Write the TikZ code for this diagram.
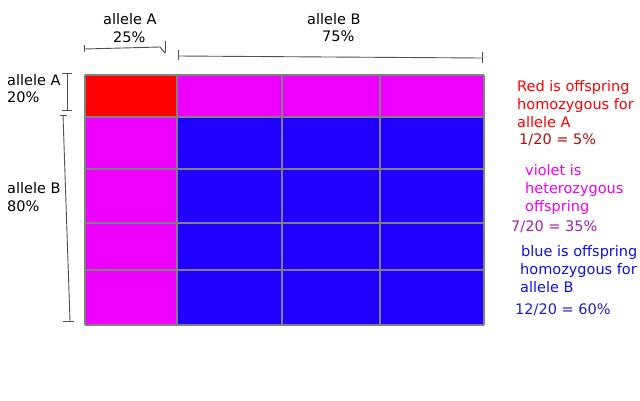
\documentclass[tikz,border=0pt]{standalone}
\usepackage{fontspec}
\setmainfont{DejaVu Sans}
\definecolor{cred}{HTML}{FF0000}
\definecolor{cmag}{HTML}{EE00FF}
\definecolor{cblue}{HTML}{2200FF}
\definecolor{gridgray}{HTML}{808080}
\definecolor{brk}{HTML}{505050}
\definecolor{tred}{HTML}{FF0000}
\definecolor{tdred}{HTML}{B01010}
\definecolor{tmag}{HTML}{EE00EE}
\definecolor{tpur}{HTML}{A020B0}
\definecolor{tblue}{HTML}{1010E0}
\definecolor{tdblue}{HTML}{2020C0}
\tikzset{
  lbl/.style={inner sep=0pt, anchor=base west, font=\fontsize{14.5}{18}\selectfont},
  gridline/.style={draw=gridgray, line width=1.5pt},
  bracket/.style={draw=brk, line width=0.9pt}
}
\begin{document}
\begin{tikzpicture}[x=1pt,y=-1pt]
\useasboundingbox (0,0) rectangle (640,400);
% cells
\def\xa{85}\def\xb{177}\def\xc{282}\def\xd{380}\def\xe{484}
\def\ya{75}\def\yb{117}\def\yc{169}\def\yd{223}\def\ye{270}\def\yf{325}
\fill[cblue] (\xb,\yb) rectangle (\xe,\yf);
\fill[cmag] (\xb,\ya) rectangle (\xe,\yb);
\fill[cmag] (\xa,\yb) rectangle (\xb,\yf);
\fill[cred] (\xa,\ya) rectangle (\xb,\yb);
% grid lines
\foreach \x in {\xa,\xb,\xc,\xd,\xe} \draw[gridline] (\x,\ya) -- (\x,\yf);
\foreach \y in {\ya,\yb,\yc,\yd,\ye,\yf} \draw[gridline] (\xa,\y) -- (\xe,\y);
% top labels
\node[lbl] (tA) at (103,24) {allele A};
\node[lbl] (tA2) at (113,42) {25\%};
\node[lbl] (tB) at (307,24) {allele B};
\node[lbl] (tB2) at (322,41) {75\%};
% left labels
\node[lbl] (lA) at (7,85) {allele A};
\node[lbl] (lA2) at (7,102) {20\%};
\node[lbl] (lB) at (7,193) {allele B};
\node[lbl] (lB2) at (7,211) {80\%};
% brackets
\coordinate (ta1) at (84,49); \coordinate (ta2) at (160,47); \coordinate (ta3) at (165,53);
\draw[bracket] (84,45) -- (84,52);
\draw[bracket] (ta1) -- (ta2) -- (ta3);
\draw[bracket] (165,41) -- (ta3);
\coordinate (tb1) at (178,56); \coordinate (tb2) at (482,58);
\draw[bracket] (178,50) -- (178,60);
\draw[bracket] (tb1) -- (tb2);
\draw[bracket] (482,52) -- (482,63);
\coordinate (la1) at (67,73); \coordinate (la2) at (67,110);
\draw[bracket] (la1) -- (la2);
\draw[bracket] (62,73) -- (72,73);
\draw[bracket] (62,110) -- (72,110);
\coordinate (lb1) at (63,115); \coordinate (lb2) at (70,321);
\draw[bracket] (lb1) -- (lb2);
\draw[bracket] (60,115) -- (67,115);
\draw[bracket] (63,321) -- (74,321);
% legend
\node[lbl, text=tred] (r1) at (517,91) {Red is offspring};
\node[lbl, text=tred] (r2) at (517,109) {homozygous for};
\node[lbl, text=tred] (r3) at (517,127) {allele A};
\node[lbl, text=tdred] (r4) at (519,144) {1/20 = 5\%};
\node[lbl, text=tmag] (v1) at (525,175) {violet is};
\node[lbl, text=tmag] (v2) at (525,193) {heterozygous};
\node[lbl, text=tmag] (v3) at (525,211) {offspring};
\node[lbl, text=tpur] (v4) at (511,231) {7/20 = 35\%};
\node[lbl, text=tblue] (b1) at (521,256) {blue is offspring};
\node[lbl, text=tblue] (b2) at (520,274) {homozygous for};
\node[lbl, text=tblue] (b3) at (520,292) {allele B};
\node[lbl, text=tdblue] (b4) at (515,314) {12/20 = 60\%};
\end{tikzpicture}
\end{document}
